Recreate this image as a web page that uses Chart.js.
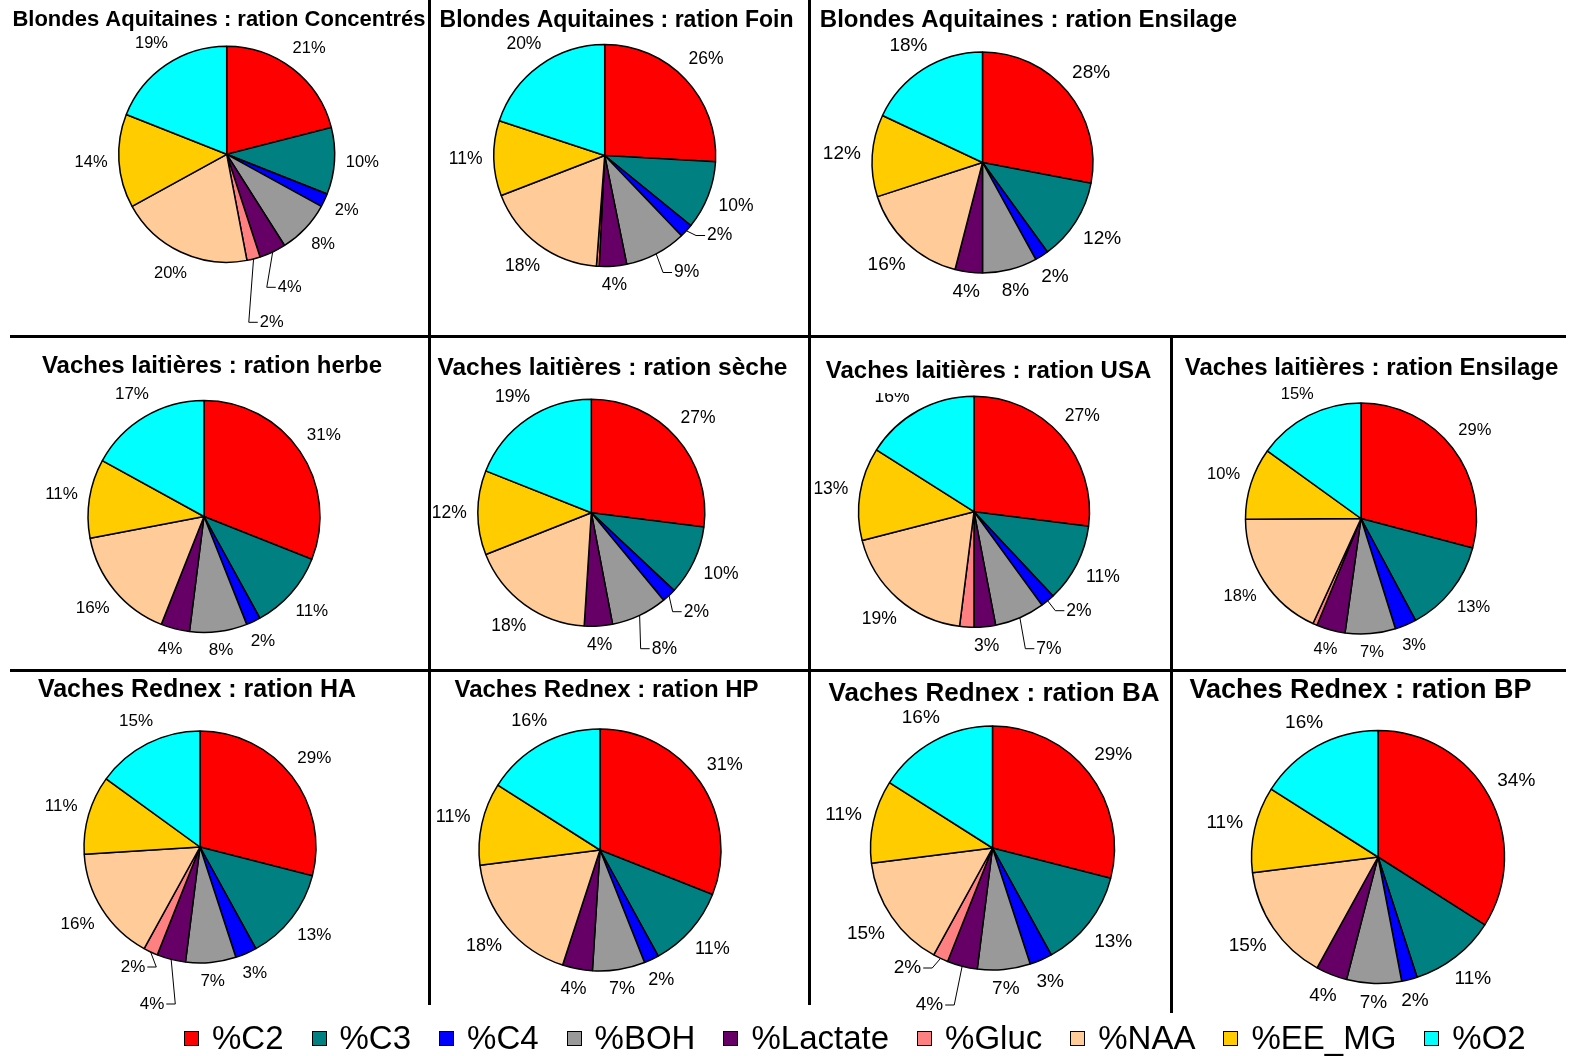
<!DOCTYPE html>
<html lang="fr">
<head>
<meta charset="utf-8">
<title>Profils fermentaires par ration</title>
<script src="https://cdn.jsdelivr.net/npm/chart.js@4.4.1/dist/chart.umd.min.js"></script>
<style>
  html, body { margin: 0; padding: 0; background: #fff; }
  #page { position: relative; width: 1579px; height: 1056px; overflow: hidden; font-family: "Liberation Sans", Arial, sans-serif; }
  #page canvas { position: absolute; left: 0; top: 0; }
  .rule { position: absolute; background: #000; }
  #legend { position: absolute; left: 184px; top: 1017px; height: 42px; display: flex; align-items: center; white-space: nowrap; font-size: 33px; color: #000; }
  #legend .item { display: flex; align-items: center; margin-right: 28px; }
  #legend .box { width: 13px; height: 13px; border: 1px solid #000; margin-right: 13px; }
</style>
</head>
<body>
<div id="page"></div>
<script>
const W = 1579, H = 1056;

// Séries, dans l'ordre des parts (sens horaire depuis midi)
const categories = ['%C2', '%C3', '%C4', '%BOH', '%Lactate', '%Gluc', '%NAA', '%EE_MG', '%O2'];
const sliceColors = ['#FF0000', '#008080', '#0000FF', '#999999', '#660066', '#FF8080', '#FFCC99', '#FFCC00', '#00FFFF'];

const titles = [
  'Blondes Aquitaines : ration Concentrés',
  'Blondes Aquitaines : ration Foin',
  'Blondes Aquitaines : ration Ensilage',
  'Vaches laitières : ration herbe',
  'Vaches laitières : ration sèche',
  'Vaches laitières : ration USA',
  'Vaches laitières : ration Ensilage',
  'Vaches Rednex : ration HA',
  'Vaches Rednex : ration HP',
  'Vaches Rednex : ration BA',
  'Vaches Rednex : ration BP'
];

// Répartition (%) par ration
const baConcentres = [21, 10, 2, 8, 4, 2, 20, 14, 19];
const baFoin       = [26, 10, 2, 9, 4, 0.4, 18, 11, 20];
const baEnsilage   = [28, 12, 2, 8, 4, 0, 16, 12, 18];
const vlHerbe      = [31, 11, 2, 8, 4, 0, 16, 11, 17];
const vlSeche      = [27, 10, 2, 8, 4, 0, 18, 12, 19];
const vlUSA        = [27, 11, 2, 7, 3, 2, 19, 13, 16];
const vlEnsilage   = [29, 13, 3, 7, 4, 0.6, 18, 10, 15];
const rxHA         = [29, 13, 3, 7, 4, 2, 16, 11, 15];
const rxHP         = [31, 11, 2, 7, 4, 0, 18, 11, 16];
const rxBA         = [29, 13, 3, 7, 4, 2, 15, 11, 16];
const rxBP         = [34, 11, 2, 7, 4, 0, 15, 11, 16];

const series = [baConcentres, baFoin, baEnsilage, vlHerbe, vlSeche, vlUSA, vlEnsilage, rxHA, rxHP, rxBA, rxBP];

// Mise en page de chaque camembert : centre, rayon, taille des étiquettes, titre
const panels = [
  { cx: 226.7, cy: 154.3, r: 108,   font: 16.5, tx: 219,    ty: 26,    ts: 22,
    leaders: { '%Lactate': [63, 133], '%Gluc': [45, 168] } },
  { cx: 604.7, cy: 155.5, r: 111,   font: 17.5, tx: 616.5,  ty: 27,    ts: 23,
    leaders: { '%C4': [115, 80], '%BOH': [82, 117] } },
  { cx: 982.5, cy: 162.5, r: 110.5, font: 19,   tx: 1028.5, ty: 26.5,  ts: 24, clip: [810, 0, W, 299] },
  { cx: 204,   cy: 516.5, r: 116,   font: 17,   tx: 212,    ty: 373,   ts: 24 },
  { cx: 591.3, cy: 512.7, r: 113.5, font: 17.5, tx: 612.5,  ty: 375,   ts: 24.5,
    leaders: { '%C4': [105, 99], '%BOH': [73, 136] } },
  { cx: 974,   cy: 511.7, r: 115.5, font: 17.5, tx: 988.5,  ty: 377.5, ts: 24, clip: [810, 393, 1170, 670],
    leaders: { '%C4': [105, 99], '%BOH': [75, 137] }, place: { '%O2': [-82, -115] }, hide: ['%Gluc'] },
  { cx: 1361,  cy: 518.5, r: 115.5, font: 16.5, tx: 1371.5, ty: 375,   ts: 24 },
  { cx: 200,   cy: 847,   r: 116,   font: 17,   tx: 197,    ty: 696.5, ts: 25,
    leaders: { '%Gluc': [-67, 120], '%Lactate': [-48, 157] } },
  { cx: 600,   cy: 850,   r: 121,   font: 18,   tx: 606.5,  ty: 697,   ts: 24 },
  { cx: 992.5, cy: 848,   r: 122,   font: 19,   tx: 994,    ty: 700.5, ts: 26,
    leaders: { '%Gluc': [-85, 120], '%Lactate': [-63, 157] } },
  { cx: 1378,  cy: 857,   r: 126.5, font: 19,   tx: 1360.5, ty: 698,   ts: 27 }
];

const FONT = '"Liberation Sans", Arial, sans-serif';

// Étiquettes de pourcentage à l'extérieur des parts, avec lignes de rappel au besoin
const pctLabels = {
  id: 'pctLabels',
  beforeDatasetsDraw(chart, args, opts) {
    const ctx = chart.ctx;
    ctx.save();
    if (opts.clip) {
      const [x0, y0, x1, y1] = opts.clip;
      ctx.beginPath();
      ctx.rect(x0, y0, x1 - x0, y1 - y0);
      ctx.clip();
    }
  },
  afterDatasetsDraw(chart, args, opts) {
    const ctx = chart.ctx;
    const meta = chart.getDatasetMeta(0);
    const values = chart.data.datasets[0].data;
    ctx.font = opts.size + 'px ' + FONT;
    ctx.fillStyle = '#000';
    ctx.strokeStyle = '#000';
    ctx.lineWidth = 1;
    ctx.textAlign = 'center';
    ctx.textBaseline = 'middle';
    meta.data.forEach((arc, i) => {
      const v = values[i];
      const name = chart.data.labels[i];
      if (v < 1 || (opts.hide || []).includes(name)) return;
      const p = arc.getProps(['x', 'y', 'startAngle', 'endAngle', 'outerRadius'], true);
      const mid = (p.startAngle + p.endAngle) / 2;
      const dx = Math.cos(mid), dy = Math.sin(mid);
      const text = Math.round(v) + '%';
      const w = ctx.measureText(text).width;
      const h = opts.size * 0.8;
      const lead = opts.leaders && opts.leaders[name];
      const fixed = opts.place && opts.place[name];
      let lx, ly;
      if (lead) {
        lx = p.x + lead[0];
        ly = p.y + lead[1];
        const ex = p.x + dx * p.outerRadius, ey = p.y + dy * p.outerRadius;
        const side = lx >= ex ? 1 : -1;
        const nearX = lx - side * (w / 2 + 2);
        ctx.beginPath();
        ctx.moveTo(ex, ey);
        ctx.lineTo(nearX - side * 9, ly);
        ctx.lineTo(nearX, ly);
        ctx.stroke();
      } else if (fixed) {
        lx = p.x + fixed[0];
        ly = p.y + fixed[1];
      } else {
        const d = p.outerRadius + opts.gap + Math.abs(dx) * w / 2 + Math.abs(dy) * h / 2;
        lx = p.x + dx * d;
        ly = p.y + dy * d;
      }
      ctx.fillText(text, lx, ly);
    });
    ctx.restore();
  }
};

const panelTitle = {
  id: 'panelTitle',
  afterDraw(chart, args, opts) {
    const ctx = chart.ctx;
    ctx.save();
    ctx.font = 'bold ' + opts.size + 'px ' + FONT;
    ctx.fillStyle = '#000';
    ctx.textAlign = 'center';
    ctx.textBaseline = 'alphabetic';
    ctx.fillText(opts.text, opts.x, opts.y);
    ctx.restore();
  }
};

const page = document.getElementById('page');

panels.forEach((pn, k) => {
  const canvas = document.createElement('canvas');
  canvas.width = W;
  canvas.height = H;
  page.appendChild(canvas);

  new Chart(canvas.getContext('2d'), {
    type: 'pie',
    data: {
      labels: categories,
      datasets: [{
        data: series[k],
        backgroundColor: sliceColors,
        borderColor: '#000',
        borderWidth: c => (c.raw > 0 ? 1.5 : 0),
        radius: pn.r
      }]
    },
    options: {
      responsive: false,
      animation: false,
      events: [],
      layout: {
        padding: { left: pn.cx - pn.r, top: pn.cy - pn.r, right: W - pn.cx - pn.r, bottom: H - pn.cy - pn.r }
      },
      plugins: {
        legend: { display: false },
        tooltip: { enabled: false },
        pctLabels: { size: pn.font, gap: 11, leaders: pn.leaders, place: pn.place, hide: pn.hide, clip: pn.clip },
        panelTitle: { text: titles[k], x: pn.tx, y: pn.ty, size: pn.ts }
      }
    },
    plugins: [pctLabels, panelTitle]
  });
});

// Traits de séparation entre les graphiques
const rules = [
  [428, 0, 3, 1005],
  [808, 0, 3, 1005],
  [1170, 336, 3, 677],
  [10, 335, 1556, 3],
  [10, 669, 1556, 3]
];
rules.forEach(([x, y, w, h]) => {
  const d = document.createElement('div');
  d.className = 'rule';
  d.style.left = x + 'px';
  d.style.top = y + 'px';
  d.style.width = w + 'px';
  d.style.height = h + 'px';
  page.appendChild(d);
});

// Légende commune
const legend = document.createElement('div');
legend.id = 'legend';
categories.forEach((name, i) => {
  const item = document.createElement('div');
  item.className = 'item';
  const box = document.createElement('span');
  box.className = 'box';
  box.style.background = sliceColors[i];
  const label = document.createElement('span');
  label.textContent = name;
  item.appendChild(box);
  item.appendChild(label);
  legend.appendChild(item);
});
page.appendChild(legend);
</script>
</body>
</html>
